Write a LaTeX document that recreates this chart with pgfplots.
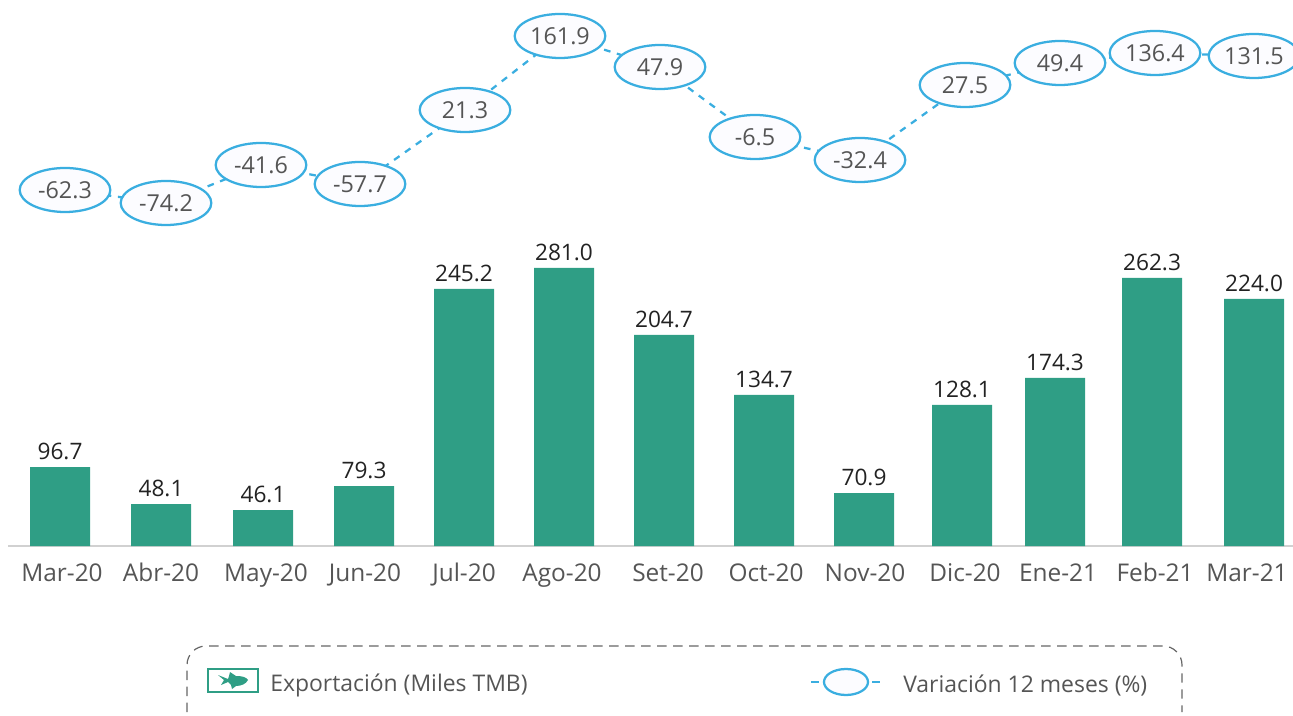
\documentclass[border=0pt]{standalone}
\usepackage{pgfplots}
\usepackage{pgfplotstable}
\usepackage{fontspec}
\setmainfont{Open Sans}
\pgfplotsset{compat=1.18}
\usetikzlibrary{shapes.geometric}
\definecolor{teal1}{HTML}{2F9E85}
\definecolor{blue1}{HTML}{3AAEE0}
\definecolor{txtgray}{HTML}{555555}
\definecolor{txtdark}{HTML}{222222}
% x = bar centre, h = bar height as drawn, label = printed value
\pgfplotstableread{
x h label
60 79 96.7
161 42 48.1
263 36 46.1
364 60 79.3
464 257 245.2
564 278 281.0
664 211 204.7
764 151 134.7
864 53 70.9
962 141 128.1
1055 168 174.3
1152 268 262.3
1254 247 224.0
}\bars
% x = ellipse centre, y = height as drawn, label = printed variation
\pgfplotstableread{
x y label
65 525 -62.3
166 512 -74.2
261 550 -41.6
360 531 -57.7
465 605 21.3
560 679 161.9
660 648 47.9
755 578 -6.5
860 555 -32.4
965 630 27.5
1060 652 49.4
1155 662 136.4
1254 659 131.5
}\line
\begin{document}
\begin{tikzpicture}[x=0.75pt,y=0.75pt]
\path[use as bounding box] (0,0) rectangle (1293,715);
\begin{axis}[at={(0,169)},anchor=south west,
  scale only axis,width=969.75pt,height=409.5pt,
  xmin=0,xmax=1293,ymin=0,ymax=546,clip=false,
  axis x line=bottom,axis y line=none,
  axis line style={draw=black!18,line width=0.9pt,-,shorten <=6pt},
  xtick={62,161,266,365,464,562,668,766,865,965,1058,1155,1247},
  xticklabels={Mar-20,Abr-20,May-20,Jun-20,Jul-20,Ago-20,Set-20,Oct-20,Nov-20,Dic-20,Ene-21,Feb-21,Mar-21},
  major tick length=0pt,
  xticklabel style={font=\fontsize{18.3}{20}\selectfont,text=txtgray,yshift=-9.5pt},
]
\addplot[ybar,bar width=45pt,bar shift=0pt,fill=teal1,draw=none,
  point meta=explicit symbolic,nodes near coords,
  every node near coord/.append style={font=\fontsize{17}{19}\selectfont,text=txtdark,inner sep=5.5pt},
] table[x=x,y=h,meta=label]{\bars};
\end{axis}
\begin{axis}[at={(0,0)},anchor=south west,
  scale only axis,width=969.75pt,height=536.25pt,
  xmin=0,xmax=1293,ymin=0,ymax=715,clip=false,hide axis,
]
\addplot[blue1,line width=1.7pt,dash pattern=on 5pt off 5pt,
  point meta=explicit symbolic,nodes near coords,
  every node near coord/.append style={anchor=center,ellipse,draw=blue1,line width=1.7pt,solid,
    fill=blue!1,minimum width=68pt,minimum height=33pt,inner sep=0pt,
    font=\fontsize{17.5}{19}\selectfont,text=txtgray},
] table[x=x,y=y,meta=label]{\line};
\end{axis}
% legend frame
\draw[black!60,line width=0.9pt,dash pattern=on 7pt off 5pt]
  (187,3) -- (187,50) arc[start angle=180,end angle=90,radius=19] -- (1163,69)
  arc[start angle=90,end angle=0,radius=19] -- (1182,3);
% legend: fish swatch
\draw[teal1,line width=2pt,fill=white] (208,23) rectangle (258,46);
\fill[teal1] (218,40) -- (228,36) -- (229,39) -- (230,43) -- (236,39)
  .. controls (242,39) and (246,38) .. (248,35)
  .. controls (246,31) and (241,29) .. (236,29)
  -- (232,26) -- (231,30)
  .. controls (230,31) and (229,32) .. (228,33)
  -- (221,30) -- (224,35) -- cycle;
\node[anchor=west,font=\fontsize{17.2}{19}\selectfont,text=txtgray,inner sep=0pt] at (270,30) {Exportación (Miles TMB)};
% legend: ellipse swatch
\draw[blue1,line width=1.7pt,fill=blue!1] (846,33) ellipse[x radius=22,y radius=13];
\draw[blue1,line width=1.7pt] (811,33) -- (819,33) (872,33) -- (880,33);
\node[anchor=west,font=\fontsize{17.2}{19}\selectfont,text=txtgray,inner sep=0pt] at (903,29) {Variación 12 meses (\%)};
\end{tikzpicture}
\end{document}
